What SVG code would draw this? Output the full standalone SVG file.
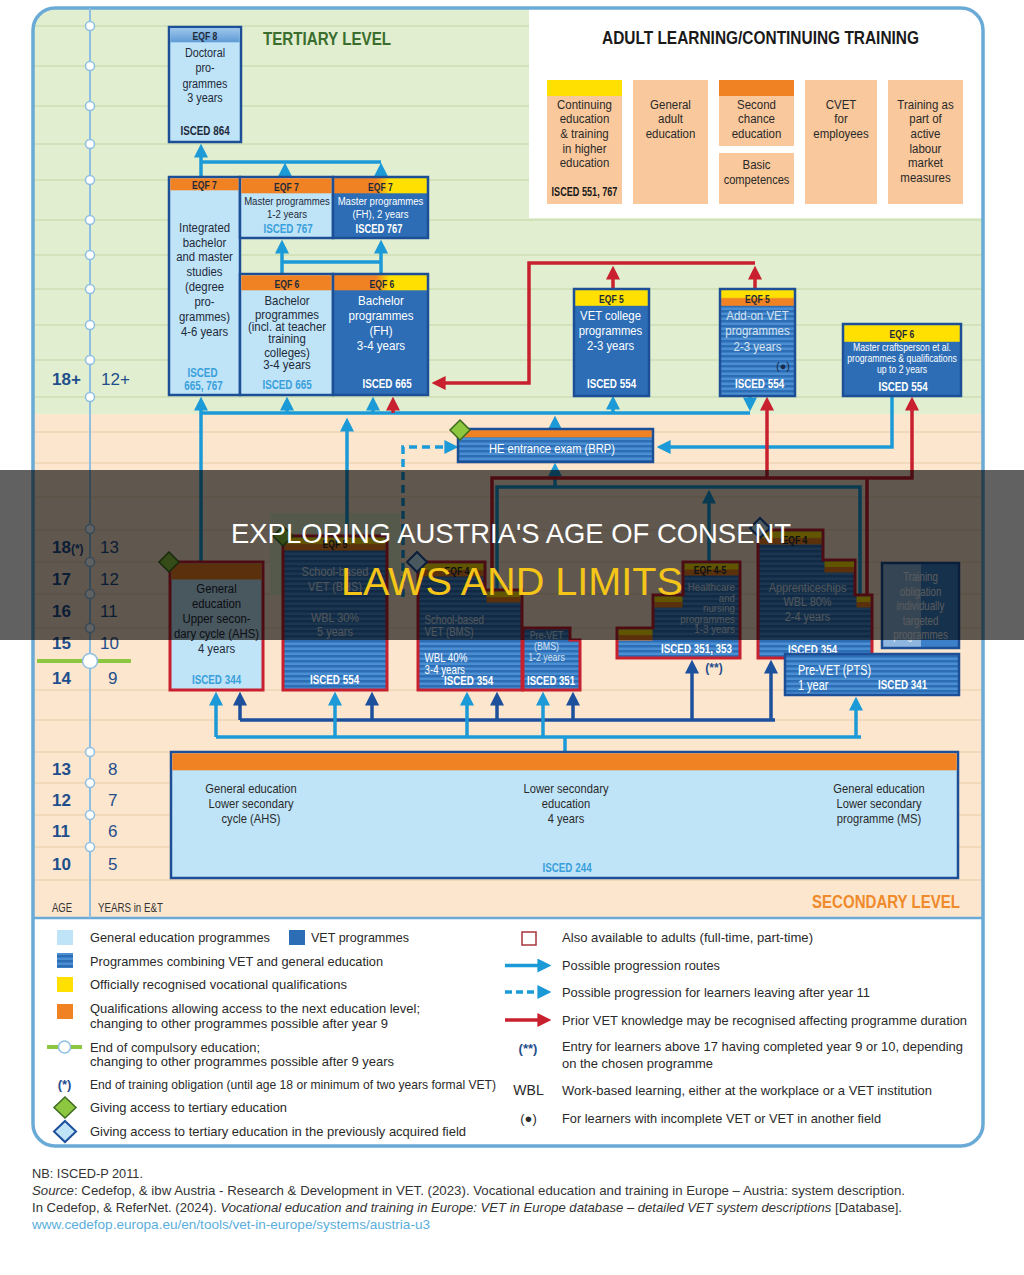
<svg xmlns="http://www.w3.org/2000/svg" width="1024" height="1275" viewBox="0 0 1024 1275">
<defs>
<style>
text{font-family:"Liberation Sans",Arial,sans-serif;}
.b{font-weight:bold}
.c{text-anchor:middle}
.e{text-anchor:end}
.dk{fill:#1e2a38}
.w{fill:#fff}
.lt{fill:#3a9fdb}
.sl{fill:#d6e2ee}
.nv{fill:#1f4e8c}
.gen{fill:#bfe4f8}
.bx{stroke:#1d4f96;stroke-width:2.5}
.rd{stroke:#c8202e;stroke-width:3}
.cl{fill:none;stroke:#1b9ad7;stroke-width:3.5}
.cd{fill:none;stroke:#1c4f9c;stroke-width:3.5}
.cr{fill:none;stroke:#c8202e;stroke-width:3.5}
.gg{stroke:#cddfb6;stroke-width:1.5}
.gp{stroke:#f1d4b6;stroke-width:1.5}
.ax{fill:#fff;stroke:#8ebfe2;stroke-width:1.5}
.lg{font-size:13px;fill:#2a2a2a}
.ad{fill:#f9c89c}
.at{font-size:13.5px;fill:#2a2a2a;text-anchor:middle}
.eq{font-size:11px;font-weight:bold;fill:#1e2a38;text-anchor:middle}
.is{font-size:12px;font-weight:bold;text-anchor:middle}
.yel{fill:#ffe000}
.org{fill:#f08224}
.gd{fill:#8dc63f;stroke:#3d6b1f;stroke-width:1.5}
.bd{fill:#bfe4f8;stroke:#1c4f9c;stroke-width:2}
</style>
<pattern id="st" patternUnits="userSpaceOnUse" width="10" height="5"><rect width="10" height="5" fill="#4b8fd3"/><rect width="10" height="2.5" fill="#2c6db5"/></pattern>
<linearGradient id="oy" x1="0" x2="1" y1="0" y2="0"><stop offset="0.45" stop-color="#f08224"/><stop offset="0.6" stop-color="#ffe000"/></linearGradient>
<linearGradient id="yo" x1="0" x2="0" y1="0" y2="1"><stop offset="0.45" stop-color="#ffe000"/><stop offset="0.55" stop-color="#f08224"/></linearGradient>
<linearGradient id="hd8" x1="0" x2="0" y1="0" y2="1"><stop offset="0" stop-color="#9cc6ec"/><stop offset="1" stop-color="#5f9ad6"/></linearGradient>
<marker id="mL" viewBox="0 0 10 10" refX="4" refY="5" markerWidth="4" markerHeight="4" orient="auto"><path d="M0,0L10,5L0,10z" fill="#1b9ad7"/></marker>
<marker id="mD" viewBox="0 0 10 10" refX="4" refY="5" markerWidth="4" markerHeight="4" orient="auto"><path d="M0,0L10,5L0,10z" fill="#1c4f9c"/></marker>
<marker id="mR" viewBox="0 0 10 10" refX="4" refY="5" markerWidth="4" markerHeight="4" orient="auto"><path d="M0,0L10,5L0,10z" fill="#c8202e"/></marker>
<clipPath id="frame"><rect x="33" y="8" width="950" height="1138" rx="22"/></clipPath>
</defs>

<rect width="1024" height="1275" fill="#fff"/>

<g id="background" clip-path="url(#frame)">
<rect x="33" y="8" width="950" height="406" fill="#e1eecf"/>
<rect x="33" y="414" width="950" height="504" fill="#fce6ce"/>
<rect x="33" y="918" width="950" height="230" fill="#fff"/>
<g class="gg">
<line x1="33" y1="26" x2="983" y2="26"/><line x1="33" y1="66" x2="983" y2="66"/><line x1="33" y1="106" x2="983" y2="106"/><line x1="33" y1="144" x2="983" y2="144"/><line x1="33" y1="180" x2="983" y2="180"/><line x1="33" y1="220" x2="983" y2="220"/><line x1="33" y1="255" x2="983" y2="255"/><line x1="33" y1="289" x2="983" y2="289"/><line x1="33" y1="325" x2="983" y2="325"/><line x1="33" y1="360" x2="983" y2="360"/><line x1="33" y1="397" x2="983" y2="397"/>
</g>
<g class="gp">
<line x1="33" y1="432" x2="983" y2="432"/><line x1="33" y1="463" x2="983" y2="463"/><line x1="33" y1="497" x2="983" y2="497"/><line x1="33" y1="530" x2="983" y2="530"/><line x1="33" y1="562" x2="983" y2="562"/><line x1="33" y1="594" x2="983" y2="594"/><line x1="33" y1="628" x2="983" y2="628"/><line x1="33" y1="690" x2="983" y2="690"/><line x1="33" y1="720" x2="983" y2="720"/><line x1="33" y1="752" x2="983" y2="752"/><line x1="33" y1="783" x2="983" y2="783"/><line x1="33" y1="815" x2="983" y2="815"/><line x1="33" y1="847" x2="983" y2="847"/><line x1="33" y1="880" x2="983" y2="880"/>
</g>
<rect x="529" y="9" width="454" height="209" fill="#fff"/>
<rect x="270" y="513" width="130" height="82" fill="#dcebc6"/>
</g>
<rect x="33" y="8" width="950" height="1138" rx="22" fill="none" stroke="#6aaad6" stroke-width="3.5"/>
<line x1="33" y1="918" x2="983" y2="918" stroke="#6aaad6" stroke-width="2.5"/>

<g id="age-axis">
<line x1="90" y1="8" x2="90" y2="918" stroke="#8ebfe2" stroke-width="2"/>
<circle class="ax" cx="90" cy="26" r="4.5"/><circle class="ax" cx="90" cy="66" r="4.5"/><circle class="ax" cx="90" cy="106" r="4.5"/><circle class="ax" cx="90" cy="144" r="4.5"/><circle class="ax" cx="90" cy="180" r="4.5"/><circle class="ax" cx="90" cy="220" r="4.5"/><circle class="ax" cx="90" cy="255" r="4.5"/><circle class="ax" cx="90" cy="289" r="4.5"/><circle class="ax" cx="90" cy="325" r="4.5"/><circle class="ax" cx="90" cy="360" r="4.5"/><circle class="ax" cx="90" cy="397" r="4.5"/>
<circle class="ax" cx="90" cy="529" r="4.5"/><circle class="ax" cx="90" cy="562" r="4.5"/><circle class="ax" cx="90" cy="594" r="4.5"/><circle class="ax" cx="90" cy="628" r="4.5"/>
<circle class="ax" cx="90" cy="752" r="4.5"/><circle class="ax" cx="90" cy="783" r="4.5"/><circle class="ax" cx="90" cy="815" r="4.5"/><circle class="ax" cx="90" cy="847" r="4.5"/>
<line x1="37" y1="661" x2="131" y2="661" stroke="#8dc63f" stroke-width="4"/>
<circle class="ax" cx="90" cy="661" r="7.5"/>
<g class="nv" font-size="17">
<text x="52" y="385" class="b">18+</text><text x="101" y="385">12+</text>
<text x="52" y="553" class="b">18<tspan font-size="12">(*)</tspan></text><text x="100" y="553">13</text>
<text x="52" y="585" class="b">17</text><text x="100" y="585">12</text>
<text x="52" y="617" class="b">16</text><text x="100" y="617">11</text>
<text x="52" y="649" class="b">15</text><text x="100" y="649">10</text>
<text x="52" y="684" class="b">14</text><text x="108" y="684">9</text>
<text x="52" y="775" class="b">13</text><text x="108" y="775">8</text>
<text x="52" y="806" class="b">12</text><text x="108" y="806">7</text>
<text x="52" y="837" class="b">11</text><text x="108" y="837">6</text>
<text x="52" y="870" class="b">10</text><text x="108" y="870">5</text>
</g>
<text transform="translate(52 912) scale(.76 1)" font-size="12.5" fill="#333">AGE</text>
<text transform="translate(98 912) scale(.78 1)" font-size="12.5" fill="#333">YEARS in E&amp;T</text>
</g>

<g id="headings">
<text x="263" y="45" class="b" font-size="18" fill="#3b6e2e" textLength="128" lengthAdjust="spacingAndGlyphs">TERTIARY LEVEL</text>
<text x="602" y="44" class="b" font-size="19" fill="#1a1a1a" textLength="317" lengthAdjust="spacingAndGlyphs">ADULT LEARNING/CONTINUING TRAINING</text>
<text x="812" y="908" class="b" font-size="18" fill="#f08a2a" textLength="148" lengthAdjust="spacingAndGlyphs">SECONDARY LEVEL</text>
</g>

<g id="connectors">
<path class="cl" d="M201,177V152" marker-end="url(#mL)"/>
<path class="cl" d="M201,162H381"/>
<path class="cl" d="M285,177V171" marker-end="url(#mL)"/>
<path class="cl" d="M381,177V171" marker-end="url(#mL)"/>
<path class="cl" d="M282,262H381"/>
<path class="cl" d="M282,274V248" marker-end="url(#mL)"/>
<path class="cl" d="M381,274V248" marker-end="url(#mL)"/>
<path class="cl" d="M201,413H750"/>
<path class="cl" d="M201,562V405" marker-end="url(#mL)"/>
<path class="cl" d="M287,413V405" marker-end="url(#mL)"/>
<path class="cl" d="M373,413V405" marker-end="url(#mL)"/>
<path class="cl" d="M613,413V404" marker-end="url(#mL)"/>
<path class="cl" d="M750,396V403" marker-end="url(#mL)"/>
<path class="cl" d="M347,536V426" marker-end="url(#mL)"/>
<path class="cl" d="M555,429V424" marker-end="url(#mL)"/>
<path class="cl" d="M892,396V447H665" marker-end="url(#mL)"/>
<path class="cl" d="M403,597V447H450" stroke-dasharray="8,5" marker-end="url(#mL)"/>
<path class="cl" d="M497,590V487H860V595"/>
<path class="cl" d="M555,487V471" marker-end="url(#mL)"/>
<path class="cl" d="M709,562V498" marker-end="url(#mL)"/>
<path class="cr" d="M755,263H529V383H440" marker-end="url(#mR)"/>
<path class="cr" d="M613,290V274" marker-end="url(#mR)"/>
<path class="cr" d="M755,290V274" marker-end="url(#mR)"/>
<path class="cr" d="M492,590V478H912V405" marker-end="url(#mR)"/>
<path class="cr" d="M767,478V405" marker-end="url(#mR)"/>
<path class="cr" d="M867,478V595"/>
<path class="cr" d="M393,413V405" marker-end="url(#mR)"/>
<path class="cd" d="M240,720H775"/>
<path class="cd" d="M240,720V700" marker-end="url(#mD)"/>
<path class="cd" d="M372,720V700" marker-end="url(#mD)"/>
<path class="cd" d="M497,720V700" marker-end="url(#mD)"/>
<path class="cd" d="M573,720V700" marker-end="url(#mD)"/>
<path class="cd" d="M692,720V668" marker-end="url(#mD)"/>
<path class="cd" d="M771,720V668" marker-end="url(#mD)"/>
<path class="cl" d="M565,752V737"/>
<path class="cl" d="M216,737H861"/>
<path class="cl" d="M216,737V700" marker-end="url(#mL)"/>
<path class="cl" d="M335,737V700" marker-end="url(#mL)"/>
<path class="cl" d="M467,737V700" marker-end="url(#mL)"/>
<path class="cl" d="M543,737V700" marker-end="url(#mL)"/>
<path class="cl" d="M856,737V705" marker-end="url(#mL)"/>
</g>

<g id="doctoral">
<rect x="169" y="27" width="72" height="115" class="gen bx"/>
<rect x="170.3" y="28.3" width="69.4" height="14" fill="url(#hd8)"/>
<text class="eq" transform="translate(205 39.5) scale(.78 1)">EQF 8</text>
<g class="c dk" font-size="13.5">
<text transform="translate(205 57) scale(.8 1)">Doctoral</text>
<text transform="translate(205 72) scale(.8 1)">pro-</text>
<text transform="translate(205 88) scale(.8 1)">grammes</text>
<text transform="translate(205 102) scale(.8 1)">3 years</text>
</g>
<text class="is dk" transform="translate(205 135) scale(.82 1)">ISCED 864</text>
</g>

<g id="integrated">
<rect x="169" y="177" width="71" height="218" class="gen bx"/>
<rect x="170.3" y="178.3" width="68.4" height="12" class="org"/>
<text class="eq" transform="translate(204.5 188.5) scale(.78 1)">EQF 7</text>
<g class="c dk" font-size="13.5">
<text transform="translate(204.5 231.5) scale(.84 1)">Integrated</text>
<text transform="translate(204.5 246.5) scale(.84 1)">bachelor</text>
<text transform="translate(204.5 260.5) scale(.84 1)">and master</text>
<text transform="translate(204.5 275.5) scale(.84 1)">studies</text>
<text transform="translate(204.5 290.5) scale(.84 1)">(degree</text>
<text transform="translate(204.5 305.5) scale(.84 1)">pro-</text>
<text transform="translate(204.5 320.5) scale(.84 1)">grammes)</text>
<text transform="translate(204.5 335.5) scale(.84 1)">4-6 years</text>
</g>
<text class="is lt" transform="translate(202.5 376.5) scale(.82 1)">ISCED</text>
<text class="is lt" transform="translate(203.5 389.5) scale(.82 1)">665, 767</text>
</g>

<g id="master">
<rect x="240" y="177" width="93" height="61" class="gen bx"/>
<rect x="241.3" y="178.3" width="90.4" height="15" class="org"/>
<text class="eq" transform="translate(286.5 191) scale(.78 1)">EQF 7</text>
<text class="c dk" font-size="11.7" transform="translate(287 205) scale(.82 1)">Master programmes</text>
<text class="c dk" font-size="11.7" transform="translate(287 218) scale(.82 1)">1-2 years</text>
<text class="is lt" transform="translate(288 233) scale(.82 1)">ISCED 767</text>
</g>

<g id="master-fh">
<rect x="333" y="177" width="95" height="61" fill="#2c6db5" class="bx"/>
<rect x="334.3" y="178.3" width="92.4" height="15" fill="url(#oy)"/>
<text class="eq" transform="translate(380.5 191) scale(.78 1)">EQF 7</text>
<text class="c w" font-size="11.7" transform="translate(380.5 205) scale(.82 1)">Master programmes</text>
<text class="c w" font-size="11.7" transform="translate(380.5 218) scale(.82 1)">(FH), 2 years</text>
<text class="is w" font-size="10" transform="translate(379 233) scale(.78 1)">ISCED 767</text>
</g>

<g id="bachelor">
<rect x="240" y="274" width="93" height="121" class="gen bx"/>
<rect x="241.3" y="275.3" width="90.4" height="15" class="org"/>
<text class="eq" transform="translate(287 287.5) scale(.78 1)">EQF 6</text>
<g class="c dk" font-size="13">
<text transform="translate(287 304.5) scale(.88 1)">Bachelor</text>
<text transform="translate(287 318.5) scale(.88 1)">programmes</text>
<text transform="translate(287 330.5) scale(.88 1)">(incl. at teacher</text>
<text transform="translate(287 342.5) scale(.88 1)">training</text>
<text transform="translate(287 356.5) scale(.88 1)">colleges)</text>
<text transform="translate(287 368.5) scale(.88 1)">3-4 years</text>
</g>
<text class="is lt" transform="translate(287 389) scale(.82 1)">ISCED 665</text>
</g>

<g id="bachelor-fh">
<rect x="333" y="274" width="95" height="121" fill="#2c6db5" class="bx"/>
<rect x="334.3" y="275.3" width="92.4" height="15" fill="url(#oy)"/>
<text class="eq" transform="translate(382 288) scale(.78 1)">EQF 6</text>
<g class="c w" font-size="13.5">
<text transform="translate(381 304.5) scale(.86 1)">Bachelor</text>
<text transform="translate(381 319.5) scale(.86 1)">programmes</text>
<text transform="translate(381 334.5) scale(.86 1)">(FH)</text>
<text transform="translate(381 349.5) scale(.86 1)">3-4 years</text>
</g>
<text class="is w" transform="translate(387 387.5) scale(.82 1)">ISCED 665</text>
</g>

<g id="vet-college">
<rect x="574" y="289" width="75" height="107" fill="#2c6db5" class="bx"/>
<rect x="575.3" y="290.3" width="72.4" height="15.5" class="yel"/>
<text class="eq" transform="translate(611.5 302.5) scale(.78 1)">EQF 5</text>
<g class="c w" font-size="13.5">
<text transform="translate(610.5 320) scale(.84 1)">VET college</text>
<text transform="translate(610.5 335) scale(.84 1)">programmes</text>
<text transform="translate(610.5 350) scale(.84 1)">2-3 years</text>
</g>
<text class="is w" transform="translate(611.5 388) scale(.82 1)">ISCED 554</text>
</g>

<g id="add-on-vet">
<rect x="720" y="289" width="75" height="107" fill="url(#st)" class="bx"/>
<rect x="721.3" y="290.3" width="72.4" height="15.5" fill="url(#yo)"/>
<text class="eq" transform="translate(757.5 302.5) scale(.78 1)">EQF 5</text>
<g class="c sl" font-size="13.5">
<text transform="translate(757.5 320) scale(.85 1)">Add-on VET</text>
<text transform="translate(757.5 335) scale(.85 1)">programmes</text>
<text transform="translate(757.5 351) scale(.85 1)">2-3 years</text>
</g>
<text x="783" y="370" class="c" font-size="11" fill="#1a2a4a">(●)</text>
<text class="is w" transform="translate(759.5 388) scale(.82 1)">ISCED 554</text>
</g>

<g id="master-craftsperson">
<rect x="843" y="324" width="118" height="72" fill="#2c6db5" class="bx"/>
<rect x="844.3" y="325.3" width="115.4" height="16.5" class="yel"/>
<text class="eq" transform="translate(902 338) scale(.78 1)">EQF 6</text>
<g class="c w" font-size="10.6">
<text transform="translate(902 351) scale(.82 1)">Master craftsperson et al.</text>
<text transform="translate(902 362) scale(.82 1)">programmes &amp; qualifications</text>
<text transform="translate(902 372.5) scale(.82 1)">up to 2 years</text>
</g>
<text class="is w" transform="translate(903 391) scale(.82 1)">ISCED 554</text>
</g>

<g id="adult-continuing-he">
<rect x="547" y="80" width="75" height="124" class="ad"/>
<rect x="547" y="80" width="75" height="16" class="yel"/>
<text class="at" transform="translate(584.5 108.5) scale(.85 1)">Continuing</text>
<text class="at" transform="translate(584.5 123) scale(.85 1)">education</text>
<text class="at" transform="translate(584.5 137.5) scale(.85 1)">&amp; training</text>
<text class="at" transform="translate(584.5 152.5) scale(.85 1)">in higher</text>
<text class="at" transform="translate(584.5 167) scale(.85 1)">education</text>
<text class="is" fill="#1a1a1a" font-size="11" transform="translate(584.5 195.5) scale(.76 1)">ISCED 551, 767</text>
</g>
<g id="adult-general">
<rect x="633" y="80" width="75" height="124" class="ad"/>
<text class="at" transform="translate(670.5 108.5) scale(.85 1)">General</text>
<text class="at" transform="translate(670.5 123) scale(.85 1)">adult</text>
<text class="at" transform="translate(670.5 137.5) scale(.85 1)">education</text>
</g>
<g id="adult-second-chance">
<rect x="719" y="80" width="75" height="66" class="ad"/>
<rect x="719" y="80" width="75" height="16" class="org"/>
<text class="at" transform="translate(756.5 108.5) scale(.85 1)">Second</text>
<text class="at" transform="translate(756.5 123) scale(.85 1)">chance</text>
<text class="at" transform="translate(756.5 137.5) scale(.85 1)">education</text>
</g>
<g id="adult-basic">
<rect x="719" y="153" width="75" height="51" class="ad"/>
<text class="at" transform="translate(756.5 168.5) scale(.85 1)">Basic</text>
<text class="at" transform="translate(756.5 183.5) scale(.82 1)">competences</text>
</g>
<g id="adult-cvet">
<rect x="805" y="80" width="72" height="124" class="ad"/>
<text class="at" transform="translate(841 108.5) scale(.85 1)">CVET</text>
<text class="at" transform="translate(841 123) scale(.85 1)">for</text>
<text class="at" transform="translate(841 137.5) scale(.85 1)">employees</text>
</g>
<g id="adult-labour-market">
<rect x="888" y="80" width="75" height="124" class="ad"/>
<text class="at" transform="translate(925.5 108.5) scale(.85 1)">Training as</text>
<text class="at" transform="translate(925.5 123) scale(.85 1)">part of</text>
<text class="at" transform="translate(925.5 137.5) scale(.85 1)">active</text>
<text class="at" transform="translate(925.5 152.5) scale(.85 1)">labour</text>
<text class="at" transform="translate(925.5 167) scale(.85 1)">market</text>
<text class="at" transform="translate(925.5 182) scale(.85 1)">measures</text>
</g>

<g id="he-entrance">
<rect x="458" y="429" width="195" height="33" fill="url(#st)" class="bx"/>
<rect x="459.3" y="430.3" width="192.4" height="7" class="org"/>
<text x="552" y="452.5" class="c w" font-size="13.5" textLength="126" lengthAdjust="spacingAndGlyphs">HE entrance exam (BRP)</text>
<polygon class="gd" points="460,420 470,430 460,440 450,430"/>
</g>

<g id="ahs-upper">
<rect x="170" y="562" width="93" height="128" class="gen rd"/>
<rect x="171.5" y="563.5" width="90" height="16" class="org"/>
<g class="c dk" font-size="13.5">
<text transform="translate(216.5 592.5) scale(.84 1)">General</text>
<text transform="translate(216.5 607.5) scale(.84 1)">education</text>
<text transform="translate(216.5 623) scale(.84 1)">Upper secon-</text>
<text transform="translate(216.5 637.5) scale(.84 1)">dary cycle (AHS)</text>
<text transform="translate(216.5 652.5) scale(.84 1)">4 years</text>
</g>
<text class="is lt" transform="translate(216.5 683.5) scale(.82 1)">ISCED 344</text>
<polygon class="gd" points="169,552 179,562 169,572 159,562"/>
</g>

<g id="bhs">
<rect x="283" y="536" width="104" height="154" fill="url(#st)" class="rd"/>
<rect x="284.5" y="537.5" width="101" height="13" fill="url(#yo)"/>
<text class="eq" transform="translate(335 548) scale(.78 1)">EQF 5</text>
<g class="c sl" font-size="13.5">
<text transform="translate(335 576) scale(.81 1)">School-based</text>
<text transform="translate(335 590.5) scale(.81 1)">VET (BHS)</text>
<text transform="translate(335 621.5) scale(.81 1)">WBL 30%</text>
<text transform="translate(335 635.5) scale(.81 1)">5 years</text>
</g>
<text class="is w" transform="translate(334.5 684) scale(.82 1)">ISCED 554</text>
<polygon class="gd" points="283,526 293,536 283,546 273,536"/>
</g>

<g id="bms">
<polygon points="418,562 485,562 485,590 522,590 522,690 418,690" fill="url(#st)" class="rd"/>
<rect x="419.5" y="563.5" width="64" height="13" fill="url(#yo)"/>
<rect x="486.5" y="591.5" width="34" height="11" fill="url(#yo)"/>
<text class="eq" transform="translate(457 575) scale(.78 1)">EQF 4</text>
<g class="sl" font-size="12">
<text transform="translate(424.5 624) scale(.81 1)">School-based</text>
<text transform="translate(424.5 636) scale(.81 1)">VET (BMS)</text>
</g>
<g class="w" font-size="12">
<text transform="translate(424.5 662) scale(.81 1)">WBL 40%</text>
<text transform="translate(424.5 674) scale(.81 1)">3-4 years</text>
</g>
<text class="is w" transform="translate(468.5 684.5) scale(.82 1)">ISCED 354</text>
<polygon class="bd" points="417,552 427,562 417,572 407,562"/>
</g>

<g id="pre-vet-bms">
<polygon points="523,628 570,628 570,640 580,640 580,690 523,690" fill="url(#st)" class="rd"/>
<g class="c sl" font-size="11">
<text transform="translate(546.5 639) scale(.8 1)">Pre-VET</text>
<text transform="translate(546.5 650) scale(.8 1)">(BMS)</text>
<text transform="translate(546.5 661) scale(.8 1)">1-2 years</text>
</g>
<text class="is w" transform="translate(551 684.5) scale(.8 1)">ISCED 351</text>
</g>

<g id="healthcare">
<polygon points="617,658 617,628 653,628 653,595 683,595 683,562 740,562 740,658" fill="url(#st)" class="rd"/>
<rect x="618.5" y="629.5" width="34" height="11" fill="url(#yo)"/>
<rect x="654.5" y="596.5" width="28" height="11" fill="url(#yo)"/>
<rect x="684.5" y="563.5" width="54" height="12" fill="url(#yo)"/>
<text class="eq" transform="translate(710 574) scale(.78 1)">EQF 4-5</text>
<g class="e sl" font-size="11.5">
<text transform="translate(735 591) scale(.85 1)">Healthcare</text>
<text transform="translate(735 601.5) scale(.85 1)">and</text>
<text transform="translate(735 612) scale(.85 1)">nursing</text>
<text transform="translate(735 622.5) scale(.85 1)">programmes</text>
<text transform="translate(735 633) scale(.85 1)">1-3 years</text>
</g>
<text class="is w" transform="translate(696.5 652.5) scale(.82 1)">ISCED 351, 353</text>
<text x="714" y="672" class="b c nv" font-size="12">(**)</text>
</g>

<g id="apprenticeships">
<polygon points="758,530 823,530 823,560 855,560 855,595 872,595 872,658 758,658" fill="url(#st)" class="rd"/>
<rect x="759.5" y="531.5" width="62" height="13" fill="url(#yo)"/>
<rect x="824.5" y="561.5" width="29.5" height="11" fill="url(#yo)"/>
<rect x="856.5" y="596.5" width="14" height="11" fill="url(#yo)"/>
<text class="eq" transform="translate(795 543.5) scale(.78 1)">EQF 4</text>
<g class="c sl" font-size="13.5">
<text transform="translate(807.5 591.5) scale(.81 1)">Apprenticeships</text>
<text transform="translate(807.5 606) scale(.81 1)">WBL 80%</text>
<text transform="translate(807.5 621) scale(.81 1)">2-4 years</text>
</g>
<text class="is w" transform="translate(812.5 653.5) scale(.82 1)">ISCED 354</text>
<polygon class="bd" points="760,518 770,528 760,538 750,528"/>
</g>

<g id="training-obligation">
<rect x="883" y="564" width="38" height="83" fill="#8fb6de"/>
<rect x="921" y="564" width="37" height="83" fill="#3b80c8"/>
<rect x="882" y="563" width="77" height="85" fill="none" class="bx"/>
<g class="c" font-size="12" fill="#e8eef5">
<text transform="translate(920.5 581) scale(.81 1)">Training</text>
<text transform="translate(920.5 595.5) scale(.81 1)">obligation</text>
<text transform="translate(920.5 610) scale(.81 1)">individually</text>
<text transform="translate(920.5 624.5) scale(.81 1)">targeted</text>
<text transform="translate(920.5 639) scale(.81 1)">programmes</text>
</g>
</g>

<g id="pre-vet-pts">
<rect x="785" y="654" width="174" height="41" fill="url(#st)" class="bx"/>
<text class="w" font-size="14" transform="translate(798 674.5) scale(.78 1)">Pre-VET (PTS)</text>
<text class="w" font-size="14" transform="translate(798 690) scale(.78 1)">1 year</text>
<text class="b w" font-size="12" transform="translate(878 689) scale(.82 1)">ISCED 341</text>
</g>

<g id="lower-secondary">
<rect x="171" y="752" width="787" height="126" class="gen bx"/>
<rect x="172.3" y="753.3" width="784.4" height="17" class="org"/>
<g class="c" font-size="13" fill="#2a2a2a">
<text transform="translate(251 793) scale(.86 1)">General education</text>
<text transform="translate(251 808) scale(.86 1)">Lower secondary</text>
<text transform="translate(251 823) scale(.86 1)">cycle (AHS)</text>
<text transform="translate(566 793) scale(.86 1)">Lower secondary</text>
<text transform="translate(566 808) scale(.86 1)">education</text>
<text transform="translate(566 823) scale(.86 1)">4 years</text>
<text transform="translate(879 793) scale(.86 1)">General education</text>
<text transform="translate(879 808) scale(.86 1)">Lower secondary</text>
<text transform="translate(879 823) scale(.86 1)">programme (MS)</text>
</g>
<text class="is lt" font-size="11.5" transform="translate(567 872) scale(.82 1)">ISCED 244</text>
</g>

<g id="legend">
<rect x="57" y="930" width="16" height="15" class="gen"/>
<text class="lg" x="90" y="942" textLength="180" lengthAdjust="spacingAndGlyphs">General education programmes</text>
<rect x="289" y="930" width="16" height="15" fill="#2c6db5"/>
<text class="lg" x="311" y="942" textLength="98" lengthAdjust="spacingAndGlyphs">VET programmes</text>
<rect x="57" y="953" width="16" height="15" fill="url(#st)"/>
<text class="lg" x="90" y="966" textLength="293" lengthAdjust="spacingAndGlyphs">Programmes combining VET and general education</text>
<rect x="57" y="977" width="16" height="15" class="yel"/>
<text class="lg" x="90" y="989" textLength="257" lengthAdjust="spacingAndGlyphs">Officially recognised vocational qualifications</text>
<rect x="57" y="1004" width="16" height="15" class="org"/>
<text class="lg" x="90" y="1013" textLength="330" lengthAdjust="spacingAndGlyphs">Qualifications allowing access to the next education level;</text>
<text class="lg" x="90" y="1028" textLength="298" lengthAdjust="spacingAndGlyphs">changing to other programmes possible after year 9</text>
<line x1="47" y1="1047" x2="82" y2="1047" stroke="#8dc63f" stroke-width="4"/>
<circle cx="64.5" cy="1047" r="6" class="ax"/>
<text class="lg" x="90" y="1052" textLength="170" lengthAdjust="spacingAndGlyphs">End of compulsory education;</text>
<text class="lg" x="90" y="1066" textLength="304" lengthAdjust="spacingAndGlyphs">changing to other programmes possible after 9 years</text>
<text x="64.5" y="1089" class="b c nv" font-size="13">(*)</text>
<text class="lg" x="90" y="1089" textLength="406" lengthAdjust="spacingAndGlyphs">End of training obligation (until age 18 or minimum of two years formal VET)</text>
<polygon class="gd" points="65,1097 76,1107.5 65,1118 54,1107.5"/>
<text class="lg" x="90" y="1112" textLength="197" lengthAdjust="spacingAndGlyphs">Giving access to tertiary education</text>
<polygon class="bd" points="65,1121 76,1131.5 65,1142 54,1131.5"/>
<text class="lg" x="90" y="1136" textLength="376" lengthAdjust="spacingAndGlyphs">Giving access to tertiary education in the previously acquired field</text>

<rect x="522" y="932" width="14" height="13" fill="none" stroke="#a8343c" stroke-width="1.5"/>
<text class="lg" x="562" y="942" textLength="251" lengthAdjust="spacingAndGlyphs">Also available to adults (full-time, part-time)</text>
<path class="cl" d="M505,965.5H543" marker-end="url(#mL)"/>
<text class="lg" x="562" y="969.5" textLength="158" lengthAdjust="spacingAndGlyphs">Possible progression routes</text>
<path class="cl" d="M505,992H543" stroke-dasharray="7,4" marker-end="url(#mL)"/>
<text class="lg" x="562" y="997" textLength="308" lengthAdjust="spacingAndGlyphs">Possible progression for learners leaving after year 11</text>
<path class="cr" d="M505,1020H543" marker-end="url(#mR)"/>
<text class="lg" x="562" y="1025" textLength="405" lengthAdjust="spacingAndGlyphs">Prior VET knowledge may be recognised affecting programme duration</text>
<text x="528" y="1053" class="b c nv" font-size="13">(**)</text>
<text class="lg" x="562" y="1051" textLength="401" lengthAdjust="spacingAndGlyphs">Entry for learners above 17 having completed year 9 or 10, depending</text>
<text class="lg" x="562" y="1068" textLength="151" lengthAdjust="spacingAndGlyphs">on the chosen programme</text>
<text x="528.5" y="1095" class="c" font-size="14" fill="#2a2a2a">WBL</text>
<text class="lg" x="562" y="1095" textLength="370" lengthAdjust="spacingAndGlyphs">Work-based learning, either at the workplace or a VET institution</text>
<text x="528.5" y="1123" class="c" font-size="13" fill="#2a2a2a">(●)</text>
<text class="lg" x="562" y="1123" textLength="319" lengthAdjust="spacingAndGlyphs">For learners with incomplete VET or VET in another field</text>
</g>

<g id="footer" font-size="13.5" fill="#333">
<text x="32" y="1178" textLength="111" lengthAdjust="spacingAndGlyphs">NB: ISCED-P 2011.</text>
<text x="32" y="1195" textLength="873" lengthAdjust="spacingAndGlyphs"><tspan font-style="italic">Source</tspan>: Cedefop, &amp; ibw Austria - Research &amp; Development in VET. (2023). Vocational education and training in Europe – Austria: system description.</text>
<text x="32" y="1212" textLength="870" lengthAdjust="spacingAndGlyphs">In Cedefop, &amp; ReferNet. (2024). <tspan font-style="italic">Vocational education and training in Europe: VET in Europe database – detailed VET system descriptions</tspan> [Database].</text>
<text x="32" y="1229" fill="#5aaedc" textLength="398" lengthAdjust="spacingAndGlyphs">www.cedefop.europa.eu/en/tools/vet-in-europe/systems/austria-u3</text>
</g>

<g id="title-banner">
<rect x="0" y="470" width="1024" height="170" fill="#000" fill-opacity="0.62"/>
<text x="231" y="543" font-size="28" fill="#fff" textLength="560" lengthAdjust="spacingAndGlyphs">EXPLORING AUSTRIA'S AGE OF CONSENT</text>
<text x="341" y="595" font-size="38" fill="#f5c518" textLength="342" lengthAdjust="spacingAndGlyphs">LAWS AND LIMITS</text>
</g>
</svg>
